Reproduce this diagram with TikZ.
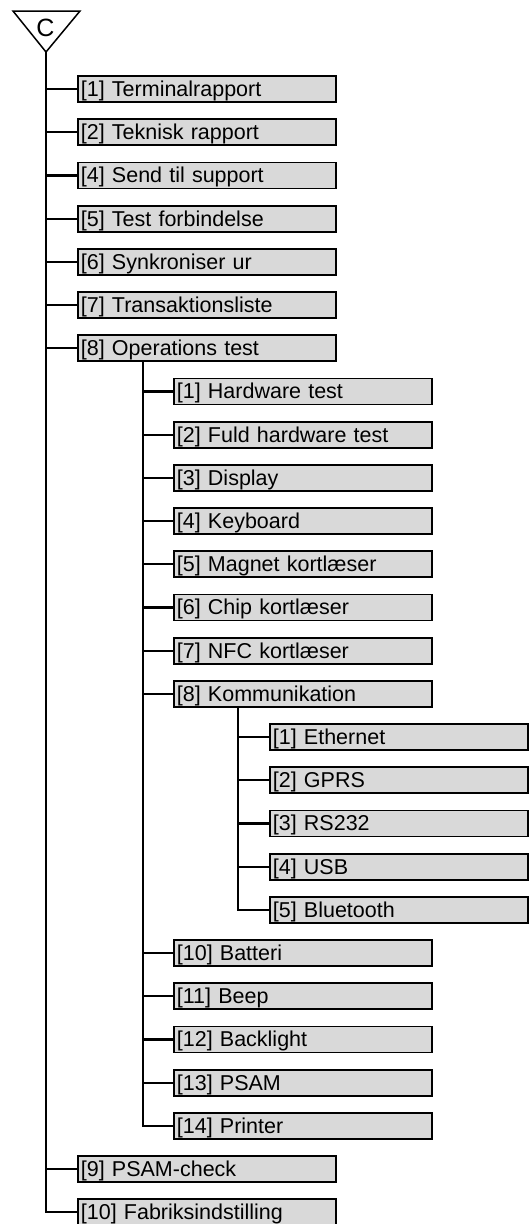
\documentclass[tikz,border=0pt]{standalone}
\usepackage{fontspec}
\setmainfont{Liberation Sans}
\definecolor{boxgray}{RGB}{217,217,217}

\begin{document}
\begin{tikzpicture}[
  x=1pt, y=-1pt,
  item/.style={
    draw, fill=boxgray, line width=1.8pt,
    minimum height=26pt,
    text width=252pt, % box width minus padding
    text height=20pt, text depth=5pt,
    inner xsep=3pt, inner ysep=0pt,
    anchor=west, align=left,
    font=\fontsize{21.5}{24}\selectfont
  },
  conn/.style={line width=2.2pt}
]
\def\rowgap{43.2} % distance between rows
\useasboundingbox (0,0) rectangle (529,1224);

% --- top symbol ---
\coordinate (top) at (46,52);
\draw[line width=1.5pt, line join=miter] (13,11) -- (80,11) -- (top) -- cycle;
\node[font=\fontsize{25}{28}\selectfont] (lblC) at (45.5,27.5) {C};

% --- first level ---
\foreach \r/\t in {0/{[1] Terminalrapport}, 1/{[2] Teknisk rapport},
  2/{[4] Send til support}, 3/{[5] Test forbindelse}, 4/{[6] Synkroniser ur},
  5/{[7] Transaktionsliste}, 6/{[8] Operations test}, 25/{[9] PSAM-check},
  26/{[10] Fabriksindstilling}} {
  \node[item] (a\r) at (77,89+\r*\rowgap) {\t};
}

% --- second level ---
\foreach \r/\t in {7/{[1] Hardware test}, 8/{[2] Fuld hardware test},
  9/{[3] Display}, 10/{[4] Keyboard}, 11/{[5] Magnet kortlæser},
  12/{[6] Chip kortlæser}, 13/{[7] NFC kortlæser}, 14/{[8] Kommunikation},
  20/{[10] Batteri}, 21/{[11] Beep}, 22/{[12] Backlight}, 23/{[13] PSAM},
  24/{[14] Printer}} {
  \node[item] (b\r) at (173,89+\r*\rowgap) {\t};
}

% --- third level ---
\foreach \r/\t in {15/{[1] Ethernet}, 16/{[2] GPRS}, 17/{[3] RS232},
  18/{[4] USB}, 19/{[5] Bluetooth}} {
  \node[item] (c\r) at (269,89+\r*\rowgap) {\t};
}

% --- connectors ---
\draw[conn] (top) |- (a26.west);
\foreach \r in {0,...,6,25} {
  \draw[conn] (a\r.west) -- ++(-31,0);
}

\coordinate (sp2) at (a6.south west -| 143,0);
\draw[conn] (sp2) |- (b24.west);
\foreach \r in {7,...,14,20,21,22,23} {
  \draw[conn] (b\r.west) -- ++(-30,0);
}

\coordinate (sp3) at (b14.south west -| 238,0);
\draw[conn] (sp3) |- (c19.west);
\foreach \r in {15,...,18} {
  \draw[conn] (c\r.west) -- ++(-31,0);
}
\end{tikzpicture}
\end{document}
